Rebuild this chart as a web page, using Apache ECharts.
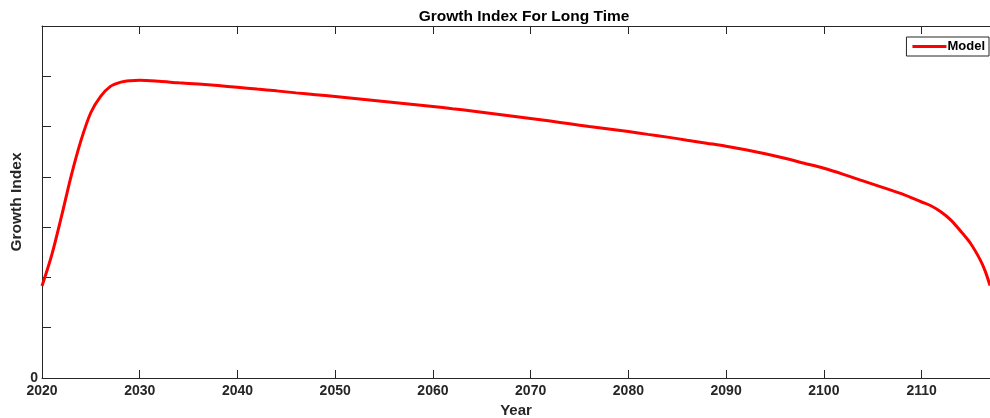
<!DOCTYPE html>
<html><head><meta charset="utf-8">
<script src="https://cdn.jsdelivr.net/npm/echarts@6/dist/echarts.min.js"></script>
<style>html,body{margin:0;padding:0;background:#fff}#c{width:990px;height:418px}</style>
</head><body><div id="c"></div>
<script>
var years = [2020,2021,2022,2023,2024,2025,2026,2027,2028,2029,2030,2032,2034,2036,2038,2040,2042,2044,2046,2048,2050,2052,2054,2056,2058,2060,2062,2064,2066,2068,2070,2072,2074,2076,2078,2080,2082,2084,2086,2088,2090,2092,2094,2096,2098,2100,2102,2104,2106,2108,2110,2111,2112,2113,2114,2115,2116,2116.5,2117];
var values = [1.83,2.45,3.22,4.03,4.73,5.28,5.60,5.80,5.88,5.91,5.92,5.90,5.87,5.845,5.815,5.78,5.745,5.71,5.67,5.635,5.60,5.56,5.52,5.48,5.44,5.40,5.355,5.31,5.26,5.21,5.16,5.11,5.055,5.00,4.95,4.90,4.845,4.79,4.73,4.67,4.61,4.54,4.46,4.37,4.27,4.17,4.05,3.92,3.79,3.66,3.50,3.42,3.30,3.14,2.92,2.68,2.35,2.13,1.84];
var xTickLabels = ['2020','2030','2040','2050','2060','2070','2080','2090','2100','2110'];
var yTickLabels = ['0'];
var data = years.map(function(y,i){return [y, values[i]];});
var font = 'Liberation Sans';
var txt = '#262626';
var chart = echarts.init(document.getElementById('c'));
chart.setOption({
  animation:false,
  title:{text:'Growth Index For Long Time',left:519,textAlign:'center',top:4,textStyle:{fontFamily:font,fontWeight:'bold',fontSize:15.5,color:'#000'}},
  legend:{data:['Model'],right:1,top:37,orient:'vertical',icon:'rect',itemWidth:34,itemHeight:3,itemGap:0,
    padding:[3,4,3,6],borderColor:'#262626',borderWidth:1,backgroundColor:'#fff',
    textStyle:{fontFamily:font,fontWeight:'bold',fontSize:13,color:'#000',padding:[0,0,0,-4]}},
  grid:{left:42,right:0,top:26,bottom:40,outerBoundsMode:'none',containLabel:false},
  xAxis:[{type:'value',min:2020,max:2117,interval:10,name:'Year',nameLocation:'middle',nameGap:24,
    nameTextStyle:{fontFamily:font,fontWeight:'bold',fontSize:15,color:txt},
    axisLine:{show:true,lineStyle:{color:'#262626',width:1}},
    axisTick:{show:true,inside:true,length:8,lineStyle:{color:'#262626'}},
    axisLabel:{showMaxLabel:false,margin:6,fontFamily:font,fontWeight:'bold',fontSize:14,color:txt,
      formatter:function(v){var s=String(Math.round(v));return xTickLabels.indexOf(s)>=0?s:'';}},
    splitLine:{show:false}},
   {type:'value',position:'top',min:2020,max:2117,interval:10,
    axisLine:{show:true,lineStyle:{color:'#262626',width:1}},
    axisTick:{show:true,inside:true,length:8,lineStyle:{color:'#262626'}},
    axisLabel:{show:false},splitLine:{show:false}}],
  yAxis:{type:'value',min:0,max:7,interval:1,name:'Growth Index',nameLocation:'middle',nameGap:17,nameMoveOverlap:false,
    nameTextStyle:{fontFamily:font,fontWeight:'bold',fontSize:15.5,color:txt},
    axisLine:{show:true,lineStyle:{color:'#262626',width:1}},
    axisTick:{show:true,inside:true,length:9,lineStyle:{color:'#262626'}},
    axisLabel:{margin:4,fontFamily:font,fontWeight:'bold',fontSize:14,color:txt,
      formatter:function(v){var s=String(v);return yTickLabels.indexOf(s)>=0?s:'';}},
    splitLine:{show:false}},
  series:[{name:'Model',type:'line',data:data,smooth:0.3,showSymbol:false,symbol:'none',
    lineStyle:{color:'#ff0000',width:3},itemStyle:{color:'#ff0000'}}]
});
</script></body></html>
